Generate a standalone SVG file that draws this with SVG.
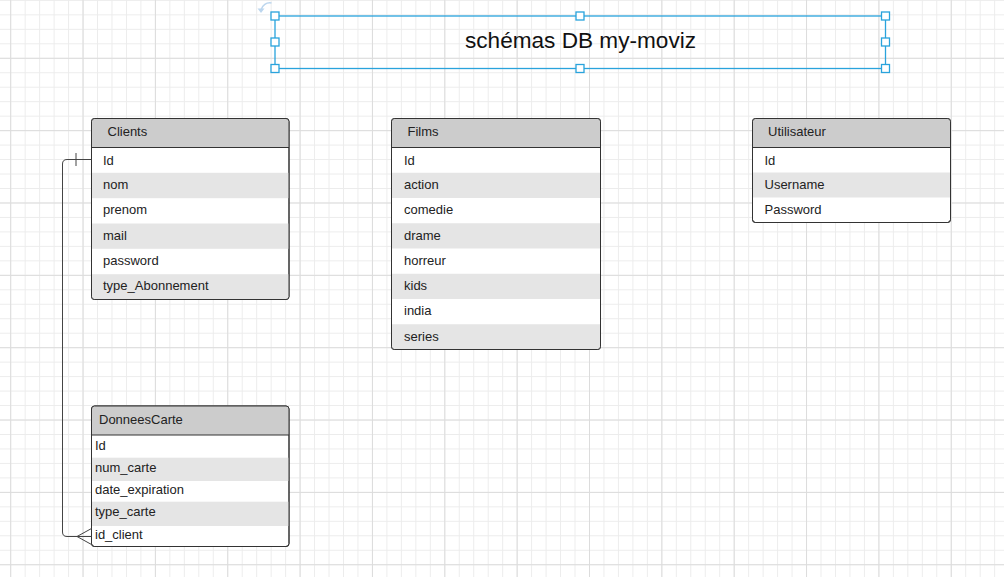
<svg xmlns="http://www.w3.org/2000/svg" width="1004" height="577" viewBox="0 0 1004 577">
<defs>
<style>
.tb{fill:#ffffff;stroke:#333333;stroke-width:1}
.hd{fill:#cccccc}
.gr{fill:#e5e5e5}
.hl{stroke:#333333;stroke-width:1}
.t{font-family:"Liberation Sans",Arial,sans-serif;font-size:13px;fill:#222222}
.ttl{font-family:"Liberation Sans",Arial,sans-serif;font-size:22.6px;fill:#111111}
.hdl{fill:#ffffff;stroke:#29a3dc;stroke-width:1.3}
.con{fill:none;stroke:#444444;stroke-width:1}
</style>
<pattern id="minor" patternUnits="userSpaceOnUse" x="10.2" y="-0.1" width="14.47" height="14.47">
<rect x="0" y="0" width="14.47" height="1" fill="#ececec"/>
<rect x="0" y="0" width="1" height="14.47" fill="#ececec"/>
</pattern>
<pattern id="major" patternUnits="userSpaceOnUse" x="10.2" y="57.8" width="72.35" height="72.35">
<rect x="0" y="0" width="72.35" height="1" fill="#dcdcdc"/>
<rect x="0" y="0" width="1" height="72.35" fill="#dcdcdc"/>
</pattern>
<clipPath id="cClients"><rect x="91.5" y="118.5" width="197.5" height="181" rx="3"/></clipPath>
<clipPath id="cFilms"><rect x="391.5" y="118.5" width="209" height="231" rx="3"/></clipPath>
<clipPath id="cUtil"><rect x="752.5" y="118.5" width="198" height="104" rx="3"/></clipPath>
<clipPath id="cDon"><rect x="91.5" y="406" width="197.5" height="140.5" rx="3"/></clipPath>
</defs>
<rect width="1004" height="577" fill="#ffffff"/>
<rect width="1004" height="577" fill="url(#minor)"/>
<rect width="1004" height="577" fill="url(#major)"/>

<g id="title">
<path d="M271.5 3 A9 9 0 0 0 261 10" fill="none" stroke="#bcd6ee" stroke-width="1.5"/>
<polygon points="257.5,8.5 264.5,8.5 261,13" fill="#bcd6ee"/>
<rect x="275" y="16" width="610.5" height="52.5" fill="none" stroke="#29a3dc" stroke-width="1.3"/>
<rect class="hdl" x="271" y="12" width="8" height="8"/>
<rect class="hdl" x="576" y="12" width="8" height="8"/>
<rect class="hdl" x="881.5" y="12" width="8" height="8"/>
<rect class="hdl" x="271" y="38" width="8" height="8"/>
<rect class="hdl" x="881.5" y="38" width="8" height="8"/>
<rect class="hdl" x="271" y="64.5" width="8" height="8"/>
<rect class="hdl" x="576" y="64.5" width="8" height="8"/>
<rect class="hdl" x="881.5" y="64.5" width="8" height="8"/>
<text class="ttl" x="580.5" y="48" text-anchor="middle">schémas DB my-moviz</text>
</g>

<g id="clients">
<rect class="tb" x="91.5" y="118.5" width="197.5" height="181" rx="3"/>
<g clip-path="url(#cClients)">
<rect class="hd" x="91.5" y="118.5" width="197.5" height="29"/>
<rect class="gr" x="91.5" y="172.8" width="197.5" height="25.4"/>
<rect class="gr" x="91.5" y="223.5" width="197.5" height="25.3"/>
<rect class="gr" x="91.5" y="274.2" width="197.5" height="25.3"/>
</g>
<rect x="91.5" y="118.5" width="197.5" height="181" rx="3" fill="none" stroke="#333333"/>
<line class="hl" x1="91.5" y1="147.5" x2="289" y2="147.5"/>
<text class="t" x="107.5" y="136">Clients</text>
<text class="t" x="103" y="164.5">Id</text>
<text class="t" x="103" y="189">nom</text>
<text class="t" x="103" y="214.3">prenom</text>
<text class="t" x="103" y="240">mail</text>
<text class="t" x="103" y="265">password</text>
<text class="t" x="103" y="289.5">type_Abonnement</text>
</g>

<g id="films">
<rect class="tb" x="391.5" y="118.5" width="209" height="231" rx="3"/>
<g clip-path="url(#cFilms)">
<rect class="hd" x="391.5" y="118.5" width="209" height="29"/>
<rect class="gr" x="391.5" y="172.75" width="209" height="25.25"/>
<rect class="gr" x="391.5" y="223.25" width="209" height="25.25"/>
<rect class="gr" x="391.5" y="273.75" width="209" height="25.25"/>
<rect class="gr" x="391.5" y="324.25" width="209" height="25.25"/>
</g>
<rect x="391.5" y="118.5" width="209" height="231" rx="3" fill="none" stroke="#333333"/>
<line class="hl" x1="391.5" y1="147.5" x2="600.5" y2="147.5"/>
<text class="t" x="407.5" y="136">Films</text>
<text class="t" x="404" y="164.5">Id</text>
<text class="t" x="404" y="189">action</text>
<text class="t" x="404" y="214.3">comedie</text>
<text class="t" x="404" y="240">drame</text>
<text class="t" x="404" y="265">horreur</text>
<text class="t" x="404" y="290">kids</text>
<text class="t" x="404" y="315.3">india</text>
<text class="t" x="404" y="341">series</text>
</g>

<g id="utilisateur">
<rect class="tb" x="752.5" y="118.5" width="198" height="104" rx="3"/>
<g clip-path="url(#cUtil)">
<rect class="hd" x="752.5" y="118.5" width="198" height="29"/>
<rect class="gr" x="752.5" y="172.5" width="198" height="25"/>
</g>
<rect x="752.5" y="118.5" width="198" height="104" rx="3" fill="none" stroke="#333333"/>
<line class="hl" x1="752.5" y1="147.5" x2="950.5" y2="147.5"/>
<text class="t" x="768" y="136">Utilisateur</text>
<text class="t" x="764.5" y="164.5">Id</text>
<text class="t" x="764.5" y="189">Username</text>
<text class="t" x="764.5" y="214.3">Password</text>
</g>

<g id="donneescarte">
<rect class="tb" x="91.5" y="406" width="197.5" height="140.5" rx="3"/>
<g clip-path="url(#cDon)">
<rect class="hd" x="91.5" y="406" width="197.5" height="29"/>
<rect class="gr" x="91.5" y="457.7" width="197.5" height="23.3"/>
<rect class="gr" x="91.5" y="501.7" width="197.5" height="24.3"/>
</g>
<rect x="91.5" y="406" width="197.5" height="140.5" rx="3" fill="none" stroke="#333333"/>
<line class="hl" x1="91.5" y1="435" x2="289" y2="435"/>
<text class="t" x="99" y="423.5">DonneesCarte</text>
<text class="t" x="95" y="449.7">Id</text>
<text class="t" x="95" y="471.5">num_carte</text>
<text class="t" x="95" y="494">date_expiration</text>
<text class="t" x="95" y="516">type_carte</text>
<text class="t" x="95" y="538.5">id_client</text>
</g>

<g id="connectors">
<path class="con" d="M91.5 159.5 H67 Q62.5 159.5 62.5 164 V532 Q62.5 536.5 67 536.5 H91.5"/>
<line class="con" x1="76" y1="153" x2="76" y2="166"/>
<path class="con" d="M91.5 528.5 L77 536.5 L91.5 544.5"/>
</g>
</svg>
